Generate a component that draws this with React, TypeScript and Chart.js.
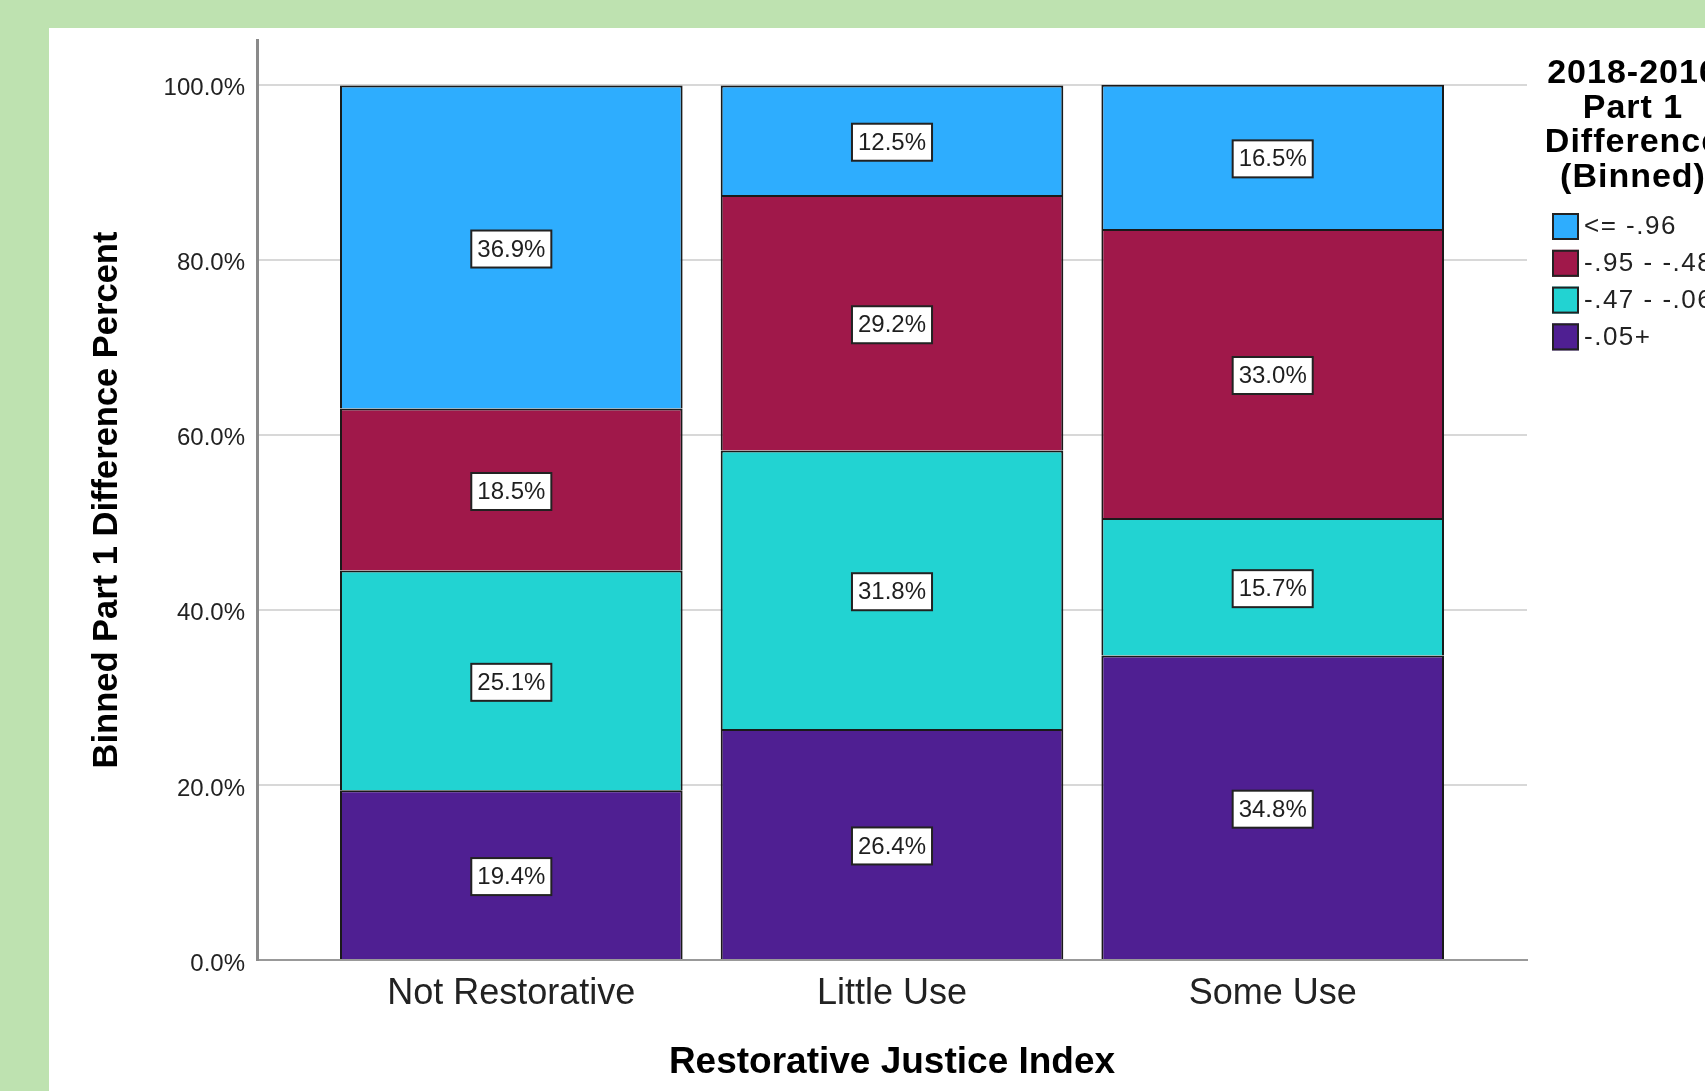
import React, { useEffect, useRef } from "react";
import { Chart, registerables } from "chart.js";

Chart.register(...registerables);

const CATEGORIES = ["Not Restorative", "Little Use", "Some Use"];
const CATEGORY_POS = [0, 1, 2];
const SERIES_LABELS = ["<= -.96", "-.95 - -.48", "-.47 - -.06", "-.05+"];
const SERIES_COLORS = ["#2eadfe", "#a0184a", "#22d3d2", "#4f1f92"];
const VAL_LE_096 = [36.9, 12.5, 16.5];
const VAL_095_048 = [18.5, 29.2, 33.0];
const VAL_047_006 = [25.1, 31.8, 15.7];
const VAL_005_PLUS = [19.4, 26.4, 34.8];
const Y_TICKS = [0, 20, 40, 60, 80, 100];
const Y_MAX = 105.1;
const X_MIN = -0.668;
const X_MAX = 2.668;
const LEGEND_TITLE = ["2018-2016", "Part 1", "Difference", "(Binned)"];
const Y_TITLE = "Binned Part 1 Difference Percent";
const X_TITLE = "Restorative Justice Index";

const FONT = '"Liberation Sans", Arial, sans-serif';

const segLabels = {
  id: "segLabels",
  afterDatasetsDraw(chart: any) {
    const ctx = chart.ctx;
    ctx.save();
    ctx.font = `24px ${FONT}`;
    ctx.textAlign = "center";
    ctx.textBaseline = "middle";
    chart.data.datasets.forEach((ds: any, di: number) => {
      const meta = chart.getDatasetMeta(di);
      meta.data.forEach((bar: any, i: number) => {
        const v = ds.data[i].y;
        const txt = v.toFixed(1) + "%";
        const p = bar.getProps(["x", "y", "base"], true);
        const cy = (p.y + p.base) / 2 + 2;
        const w = ctx.measureText(txt).width + 12;
        const h = 37;
        ctx.fillStyle = "#ffffff";
        ctx.fillRect(p.x - w / 2, cy - h / 2, w, h);
        ctx.strokeStyle = "#222222";
        ctx.lineWidth = 2;
        ctx.strokeRect(p.x - w / 2, cy - h / 2, w, h);
        ctx.fillStyle = "#1e1e1e";
        ctx.fillText(txt, p.x, cy + 1);
      });
    });
    ctx.restore();
  },
};

const sideLegend = {
  id: "sideLegend",
  afterDraw(chart: any) {
    const ctx = chart.ctx;
    const ca = chart.chartArea;
    ctx.save();
    ctx.font = `bold 34px ${FONT}`;
    try { ctx.letterSpacing = "1px"; } catch (e) {}
    ctx.fillStyle = "#000000";
    ctx.textAlign = "center";
    ctx.textBaseline = "middle";
    const cx = ca.right + 106;
    LEGEND_TITLE.forEach((line, i) => {
      ctx.fillText(line, cx, 46 + i * 34.5);
    });
    const n = chart.data.datasets.length;
    const bx = ca.right + 25;
    ctx.font = `26px ${FONT}`;
    try { ctx.letterSpacing = "1.5px"; } catch (e) {}
    ctx.textAlign = "left";
    for (let k = 0; k < n; k++) {
      const ds = chart.data.datasets[n - 1 - k];
      const top = 185 + k * 36.8;
      ctx.fillStyle = ds.backgroundColor;
      ctx.fillRect(bx, top, 27, 27);
      ctx.strokeStyle = "#222222";
      ctx.lineWidth = 2;
      ctx.strokeRect(bx + 1, top + 1, 25, 25);
      ctx.fillStyle = "#222222";
      ctx.fillText(ds.label, bx + 32, top + 14);
    }
    ctx.restore();
  },
};

export default function App() {
  const ref = useRef<HTMLCanvasElement | null>(null);

  useEffect(() => {
    if (!ref.current) return;
    const mk = (vals: number[]) => vals.map((v, i) => ({ x: CATEGORY_POS[i], y: v }));
    const seriesVals = [VAL_LE_096, VAL_095_048, VAL_047_006, VAL_005_PLUS];
    const order = [3, 2, 1, 0];
    const datasets = order.map((s) => ({
      label: SERIES_LABELS[s],
      data: mk(seriesVals[s]),
      backgroundColor: SERIES_COLORS[s],
      borderColor: "#1a1a1a",
      borderWidth: 2,
      categoryPercentage: 1,
      barPercentage: 0.9,
    }));

    const chart = new Chart(ref.current, {
      type: "bar",
      data: { datasets } as any,
      plugins: [segLabels, sideLegend],
      options: {
        animation: false,
        responsive: false,
        devicePixelRatio: 1,
        layout: { padding: { left: 0, top: 12, right: 178, bottom: 0 } },
        plugins: { legend: { display: false }, tooltip: { enabled: false } },
        scales: {
          x: {
            type: "linear",
            stacked: true,
            offset: false,
            min: X_MIN,
            max: X_MAX,
            afterBuildTicks: (s: any) => {
              s.ticks = CATEGORY_POS.map((v) => ({ value: v }));
            },
            afterFit: (s: any) => {
              s.height = 131;
              s.paddingLeft = 0;
              s.paddingRight = 0;
            },
            grid: { display: false, drawTicks: false },
            border: { display: true, color: "#999999", width: 2 },
            ticks: {
              padding: 12,
              color: "#222222",
              font: { family: FONT, size: 36 },
              autoSkip: false,
              maxRotation: 0,
              callback: (v: any) => CATEGORIES[Math.round(Number(v))] ?? "",
            },
            title: {
              display: true,
              text: X_TITLE,
              color: "#000000",
              font: { family: FONT, size: 37, weight: "bold" },
              padding: { top: 0, bottom: 6 },
            },
          },
          y: {
            stacked: true,
            min: 0,
            max: Y_MAX,
            afterBuildTicks: (s: any) => {
              s.ticks = Y_TICKS.map((v) => ({ value: v }));
            },
            afterFit: (s: any) => {
              s.width = 208;
              s.paddingTop = 0;
              s.paddingBottom = 0;
            },
            grid: { color: "#d8d8d8", lineWidth: 2, drawTicks: false },
            border: { display: true, color: "#8a8a8a", width: 3 },
            ticks: {
              padding: 12,
              labelOffset: 4,
              color: "#222222",
              font: { family: FONT, size: 24 },
              callback: (v: any) => Number(v).toFixed(1) + "%",
            },
            title: {
              display: true,
              text: Y_TITLE,
              color: "#000000",
              font: { family: FONT, size: 34.5, weight: "bold" },
              padding: { top: 38, bottom: 0 },
            },
          },
        },
      } as any,
    });
    return () => chart.destroy();
  }, []);

  return (
    <div
      style={{
        position: "fixed",
        left: 0,
        top: 0,
        width: 1705,
        height: 1091,
        background: "#bee2b0",
        overflow: "hidden",
      }}
    >
      <div
        style={{
          position: "absolute",
          left: 49,
          top: 28,
          width: 1656,
          height: 1063,
          background: "#ffffff",
          overflow: "hidden",
        }}
      >
        <canvas ref={ref} width={1656} height={1063} style={{ width: 1656, height: 1063, display: "block" }} />
      </div>
    </div>
  );
}
